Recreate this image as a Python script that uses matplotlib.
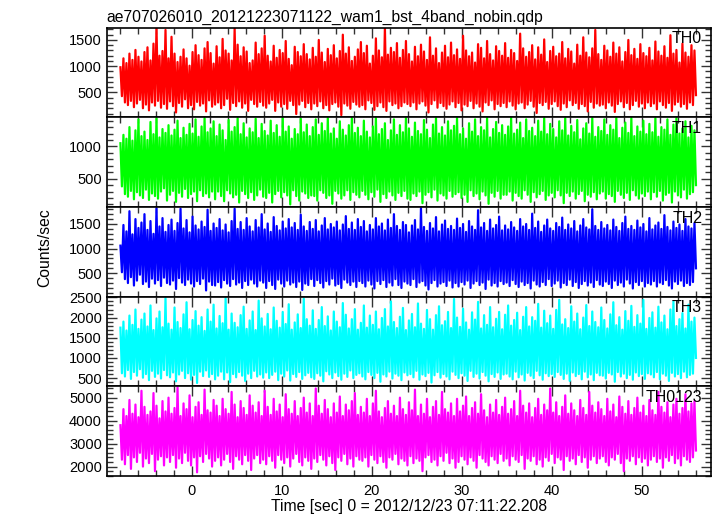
import numpy as np
import matplotlib
matplotlib.use("Agg")
import matplotlib.pyplot as plt
from matplotlib.ticker import MultipleLocator

plt.rcParams['font.family'] = ['Liberation Sans', 'DejaVu Sans']

title = "ae707026010_20121223071122_wam1_bst_4band_nobin.qdp"
bands = ["TH0", "TH1", "TH2", "TH3", "TH0123"]
colors = ["#ff0000", "#00ff00", "#0000ff", "#00ffff", "#ff00ff"]
t_start, t_end = -7.94, 56.0

# successive highs / lows of each light curve across time
th0_hi = [980, 1150, 1060, 1240, 1120, 1310, 1180, 1090, 1270, 1360, 1110, 1430, 1730, 1200, 1290, 1690,
          1150, 1560, 1240, 1080, 1180, 1320, 1150, 1010, 1270, 1400, 1210, 1120, 1340, 1460, 1250, 1050,
          1380, 1170, 1520, 1300, 1240, 1110, 1720, 1410, 1190, 1360, 1280, 1060, 1110, 1450, 1230, 1340,
          1580, 1200, 1090, 1390, 1160, 1310, 1250, 1480, 1140, 1020, 1370, 1270, 1190, 1420, 1230, 1130,
          1350, 1180, 1500, 1260, 1080, 1330, 1210, 1400, 1150, 1290, 1600, 1240, 1360, 1100, 1180, 1320,
          1460, 1250, 1390, 1050, 1200, 1530, 1300, 1170, 1740, 1220, 1350, 1270, 1440, 1160, 1310, 1480,
          1230, 1090, 1370, 1190, 1410, 1280, 1120, 1550, 1200, 1340, 1060, 1260, 1390, 1170, 1450, 1210,
          1320, 1140, 1580, 1300, 1190, 1260, 1070, 1420, 1350, 1150, 1480, 1230, 1110, 1380, 1290, 1200,
          1440, 1160, 1310, 1250, 1100, 1620, 1340, 1180, 1270, 1400, 1130, 1360, 1220, 1510, 1080, 1290,
          1370, 1190, 1240, 1460, 1150, 1330, 1280, 1050, 1410, 1200, 1550, 1260, 1170, 1340, 1690, 1230,
          1120, 1390, 1300, 1180, 1450, 1240, 1360, 1090, 1270, 1500, 1210, 1330, 1140, 1420, 1250, 1190,
          1350, 1110, 1470, 1280, 1200, 1380, 1160, 1590, 1240, 1310, 1070, 1430, 1260, 1180, 1400, 1300]
th0_lo = [430, 310, 260, 340, 220, 290, 360, 200, 270, 160, 310, 250, 340, 210, 280, 190,
          330, 240, 120, 300, 230, 370, 200, 260, 180, 320, 250, 290, 140, 350, 230, 270,
          310, 200, 260, 380, 170, 300, 240, 330, 210, 290, 150, 360, 280, 230, 320, 250,
          210, 290, 360, 150, 310, 230, 280, 190, 340, 260, 90, 270, 340, 220, 300, 180,
          290, 240, 330, 200, 260, 160, 280, 310, 230, 70, 290, 250, 190, 320, 270, 230,
          260, 180, 350, 300, 170, 240, 310, 220, 150, 330, 260, 290, 200, 240, 310, 280,
          240, 310, 180, 290, 330, 250, 120, 280, 350, 210, 300, 240, 190, 270, 330, 220,
          300, 160, 270, 240, 340, 200, 290, 230, 140, 310, 260, 350, 180, 280, 240, 300,
          220, 330, 250, 180, 290, 310, 200, 270, 340, 230, 110, 300, 260, 320, 190, 280,
          330, 240, 170, 290, 220, 350, 260, 300, 190, 280, 240, 140, 320, 210, 290, 250,
          270, 200, 310, 250, 130, 280, 330, 220, 300, 180, 260, 340, 230, 290, 200, 310,
          240, 290, 180, 330, 260, 210, 300, 150, 270, 320, 230, 280, 190, 310, 260, 450]

th1_hi = [1050, 1180, 1120, 1300, 1090, 1250, 1420, 1160, 1230, 1100, 1380, 1190, 1440, 1140, 1270, 1210,
          1330, 1170, 1260, 1400, 1130, 1290, 1180, 1350, 1200, 1420, 1150, 1310, 1440, 1220, 1280, 1390,
          1160, 1340, 1250, 1100, 1410, 1230, 1300, 1440, 1190, 1360, 1140, 1280, 1220, 1430, 1130, 1350,
          1240, 1170, 1400, 1210, 1330, 1150, 1440, 1230, 1310, 1120, 1270, 1190, 1430, 1220, 1340, 1160,
          1300, 1420, 1180, 1360, 1240, 1440, 1200, 1280, 1120, 1390, 1260, 1170, 1330, 1440, 1210, 1290,
          1160, 1400, 1230, 1140, 1310, 1440, 1190, 1270, 1360, 1100, 1250, 1420, 1180, 1330, 1220, 1440,
          1280, 1150, 1370, 1240, 1190, 1410, 1260, 1130, 1340, 1440, 1200, 1300, 1170, 1390, 1250, 1320,
          1440, 1190, 1280, 1120, 1360, 1230, 1420, 1160, 1300, 1250, 1440, 1140, 1270, 1380, 1210, 1330,
          1180, 1310, 1440, 1200, 1260, 1370, 1130, 1420, 1240, 1290, 1160, 1400, 1230, 1440, 1190, 1350,
          1270, 1140, 1390, 1250, 1440, 1170, 1320, 1220, 1410, 1110, 1280, 1360, 1200, 1440, 1150, 1300,
          1240, 1420, 1180, 1330, 1260, 1440, 1130, 1290, 1370, 1210, 1440, 1160, 1310, 1230, 1400, 1190,
          1350, 1220, 1440, 1150, 1300, 1260, 1420, 1180, 1340, 1440, 1200, 1280, 1390, 1140, 1320, 1250]
th1_lo = [380, 260, 220, 310, 180, 290, 240, 200, 330, 170, 270, 230, 190, 300, 350, 160,
          250, 310, 140, 280, 220, 340, 200, 260, 300, 150, 320, 230, 270, 210, 300, 180,
          300, 230, 150, 320, 270, 210, 250, 130, 310, 260, 200, 290, 170, 240, 330, 220,
          200, 280, 130, 260, 310, 210, 290, 240, 100, 320, 230, 160, 300, 270, 200, 240,
          230, 160, 320, 280, 200, 240, 110, 310, 270, 190, 240, 320, 170, 290, 250, 210,
          310, 250, 180, 290, 220, 330, 140, 260, 200, 300, 240, 170, 280, 230, 310, 190,
          170, 270, 230, 300, 120, 250, 290, 210, 330, 160, 270, 240, 190, 310, 220, 260,
          290, 200, 250, 140, 320, 230, 270, 180, 300, 240, 110, 280, 220, 310, 190, 250,
          250, 300, 160, 280, 230, 190, 320, 250, 140, 290, 210, 260, 310, 170, 240, 280,
          210, 320, 240, 120, 280, 230, 300, 190, 260, 310, 150, 250, 220, 290, 180, 270,
          300, 190, 260, 230, 140, 310, 250, 200, 280, 170, 320, 240, 190, 270, 230, 300,
          180, 290, 220, 310, 160, 250, 280, 130, 300, 240, 210, 330, 190, 260, 290, 400]

th2_hi = [1060, 1480, 1350, 1760, 1290, 1600, 1420, 1530, 1700, 1380, 1560, 1300, 1820, 1450, 1620, 1340,
          1480, 1590, 1360, 1520, 1810, 1410, 1580, 1330, 1650, 1470, 1390, 1550, 1440, 1790, 1360, 1510,
          1420, 1600, 1370, 1490, 1330, 1560, 1810, 1400, 1540, 1380, 1620, 1450, 1350, 1580, 1430, 1700,
          1390, 1510, 1340, 1640, 1460, 1370, 1550, 1410, 1600, 1430, 1520, 1380, 1690, 1450, 1360, 1540,
          1400, 1580, 1350, 1470, 1620, 1390, 1500, 1430, 1550, 1370, 1490, 1660, 1400, 1530, 1380, 1600,
          1440, 1560, 1350, 1480, 1390, 1620, 1450, 1510, 1370, 1590, 1420, 1700, 1460, 1380, 1540, 1480,
          1330, 1470, 1580, 1390, 1820, 1440, 1360, 1520, 1410, 1640, 1350, 1490, 1570, 1400, 1460, 1380,
          1610, 1420, 1500, 1340, 1560, 1450, 1380, 1780, 1430, 1520, 1360, 1590, 1410, 1480, 1650, 1370,
          1470, 1390, 1540, 1430, 1360, 1600, 1450, 1500, 1380, 1710, 1420, 1550, 1340, 1470, 1590, 1410,
          1360, 1520, 1440, 1630, 1380, 1490, 1410, 1560, 1350, 1470, 1600, 1430, 1390, 1800, 1460, 1380,
          1540, 1410, 1480, 1370, 1590, 1440, 1360, 1520, 1650, 1400, 1460, 1380, 1570, 1430, 1500, 1350,
          1620, 1390, 1470, 1530, 1400, 1680, 1440, 1370, 1550, 1420, 1490, 1360, 1600, 1450, 1410, 1520]
th2_lo = [520, 380, 300, 420, 250, 350, 470, 280, 330, 220, 390, 290, 360, 240, 410, 300,
          270, 350, 180, 400, 310, 260, 370, 290, 230, 340, 280, 390, 150, 330, 260, 250,
          320, 210, 360, 290, 240, 380, 270, 310, 200, 340, 260, 370, 290, 230, 350, 310,
          200, 340, 260, 180, 370, 290, 230, 350, 270, 310, 220, 330, 160, 290, 260, 380,
          240, 360, 300, 210, 340, 270, 390, 250, 280, 200, 370, 310, 260, 330, 220, 340,
          300, 230, 350, 270, 190, 340, 280, 360, 220, 310, 250, 380, 260, 200, 330, 290,
          260, 380, 220, 310, 340, 250, 170, 300, 360, 230, 290, 320, 240, 350, 210, 300,
          230, 320, 270, 350, 200, 290, 340, 260, 310, 180, 370, 250, 300, 230, 340, 280,
          310, 240, 360, 280, 220, 330, 260, 300, 190, 350, 270, 230, 320, 260, 380, 240,
          290, 350, 210, 300, 260, 370, 240, 320, 200, 280, 340, 250, 310, 220, 360, 270,
          240, 330, 280, 200, 350, 260, 310, 230, 370, 290, 190, 320, 260, 340, 230, 300,
          270, 340, 230, 310, 280, 360, 250, 190, 330, 280, 350, 240, 300, 260, 320, 600]

th3_hi = [1750, 1900, 1680, 2050, 1820, 2200, 1720, 1950, 2100, 1780, 2300, 1690, 1980, 2150, 1760, 2480,
          1850, 1700, 2250, 1890, 1740, 2080, 2380, 1710, 1940, 2160, 1800, 2010, 1670, 2200, 1900, 2320,
          1730, 2040, 1860, 2480, 1700, 2100, 1870, 1760, 2060, 2270, 1720, 1930, 2150, 1690, 2420, 1980,
          1780, 2090, 1710, 2250, 1920, 1750, 2140, 1840, 2330, 1700, 1880, 2080, 1740, 2470, 1960, 1800,
          2180, 1720, 1940, 2260, 1790, 2030, 1680, 2150, 1900, 1760, 2360, 2070, 1730, 1960, 2210, 1700,
          1870, 2300, 1750, 2050, 1820, 2150, 1710, 1990, 2210, 1780, 2400, 1890, 1740, 2020, 2240, 1690,
          1930, 2090, 1760, 2350, 1850, 1720, 2190, 1960, 1700, 2060, 2280, 1810, 1910, 2140, 1740, 2460,
          2000, 1770, 2220, 1880, 1700, 2130, 1950, 2390, 1730, 2060, 1820, 2260, 1760, 1970, 2140, 1710,
          2070, 2300, 1800, 1940, 2120, 1690, 2020, 2260, 1780, 2010, 1920, 2340, 1750, 2170, 1860, 2050,
          1720, 2190, 2440, 1830, 1960, 1740, 2280, 1900, 2100, 1710, 2000, 2310, 1790, 2150, 1890, 1760,
          2250, 1940, 1730, 2080, 2380, 1810, 2010, 1700, 2160, 1920, 2290, 1770, 2060, 1850, 2440, 1720,
          1990, 2130, 1750, 2270, 1880, 2050, 1710, 2200, 2400, 1790, 1960, 2110, 1730, 2320, 1900, 2000]
th3_lo = [620, 540, 700, 480, 650, 560, 720, 510, 600, 450, 680, 530, 610, 490, 700, 570,
          520, 640, 420, 590, 680, 500, 620, 460, 580, 380, 660, 550, 690, 530, 600, 470,
          560, 660, 470, 640, 400, 600, 520, 650, 560, 430, 610, 500, 680, 540, 590, 510,
          640, 500, 580, 660, 450, 610, 540, 690, 440, 600, 530, 650, 480, 570, 630, 520,
          480, 620, 560, 420, 670, 590, 500, 640, 550, 460, 610, 530, 690, 500, 580, 620,
          540, 470, 650, 580, 500, 630, 410, 590, 540, 660, 490, 610, 560, 450, 640, 570,
          600, 520, 680, 460, 590, 550, 630, 390, 570, 650, 510, 600, 540, 470, 660, 580,
          500, 620, 560, 430, 680, 530, 610, 490, 650, 560, 420, 600, 530, 640, 480, 590,
          610, 540, 470, 660, 520, 590, 440, 630, 560, 500, 680, 570, 460, 620, 550, 600,
          530, 650, 580, 480, 610, 430, 640, 550, 600, 470, 660, 520, 590, 450, 630, 570,
          560, 490, 630, 590, 410, 650, 540, 610, 500, 580, 460, 640, 550, 600, 480, 620,
          590, 520, 650, 470, 610, 560, 430, 630, 540, 600, 500, 660, 520, 580, 610, 1000]

th0123_hi = [3800, 4500, 4200, 4900, 4300, 4700, 4150, 5300, 4600, 4250, 4400, 5200, 4650, 4100, 4850, 4400,
             5000, 4300, 4550, 5450, 4200, 4750, 4500, 5100, 4150, 4600, 4800, 4250, 5350, 4450, 4350, 4900,
             4650, 4200, 4950, 4500, 4300, 5250, 4700, 4150, 4850, 4550, 4250, 5100, 4650, 4350, 4800, 4200,
             5300, 4600, 4250, 4950, 4400, 4700, 4150, 5150, 4500, 4300, 4850, 4200, 4550, 5000, 4350, 4750,
             4200, 5400, 4650, 4300, 4900, 4500, 4150, 4750, 4350, 5050, 4200, 4700, 4450, 4850, 5200, 4250,
             4600, 4350, 4950, 4200, 4750, 5300, 4400, 4150, 4550, 4850, 4300, 4650, 4200, 5000, 4500, 4250,
             4800, 4450, 5350, 4200, 4700, 4300, 4950, 4150, 4600, 4850, 4250, 5250, 4500, 4350, 4750, 4200,
             4950, 4400, 4650, 5050, 4200, 4550, 4800, 4300, 5150, 4450, 4150, 4700, 4350, 4900, 4250, 4600,
             5000, 4300, 4500, 4850, 4200, 5300, 4650, 4350, 4750, 4150, 4550, 4950, 4250, 4700, 4450, 5400,
             4350, 4800, 4200, 4600, 5100, 4300, 4750, 4450, 4200, 4900, 4550, 4250, 5250, 4650, 4350, 4800,
             4500, 4200, 4950, 4400, 4700, 4150, 5050, 4600, 4300, 4850, 4250, 4550, 5000, 4350, 4650, 4200,
             4900, 4450, 4250, 5250, 4600, 4350, 4800, 4150, 4700, 4950, 4300, 4550, 5150, 4400, 4750, 4850]
th0123_lo = [2300, 2100, 2500, 1900, 2400, 2200, 2600, 2000, 2350, 2150, 2550, 1800, 2300, 2450, 2050, 2400,
             2200, 2500, 1950, 2350, 2150, 2600, 2250, 2050, 2400, 1750, 2450, 2200, 2550, 2350, 2000, 2250,
             2400, 2050, 2300, 2550, 2200, 1900, 2450, 2300, 2100, 2500, 2250, 1850, 2350, 2500, 2150, 2300,
             2100, 2450, 2250, 1950, 2500, 2300, 2150, 2400, 2000, 2350, 2550, 2200, 2050, 2400, 2250, 1900,
             2350, 2200, 2500, 2300, 2050, 2450, 2150, 1850, 2400, 2250, 2550, 2100, 2350, 2000, 2450, 2300,
             2250, 2400, 2000, 2500, 2300, 2150, 2450, 2200, 1950, 2400, 2300, 2550, 2100, 2350, 2250, 2050,
             2450, 2150, 2350, 2250, 1800, 2400, 2500, 2200, 2300, 2050, 2450, 2250, 2600, 2150, 2350, 1950,
             2200, 2450, 2300, 2100, 2400, 2250, 1950, 2500, 2350, 2200, 2050, 2450, 2300, 2150, 2550, 2250,
             2350, 2050, 2450, 2300, 2200, 2500, 1900, 2350, 2250, 2450, 2100, 2300, 2000, 2400, 2250, 2550,
             2150, 2400, 2300, 1850, 2450, 2250, 2350, 2100, 2500, 2200, 2400, 1950, 2300, 2450, 2150, 2350,
             2450, 2200, 2050, 2400, 2300, 2550, 2150, 1800, 2350, 2250, 2450, 2100, 2400, 2200, 2350, 2050,
             2300, 2450, 2200, 2350, 1950, 2400, 2250, 2500, 2150, 2350, 2050, 2450, 2300, 2200, 2400, 2700]

upper = [th0_hi, th1_hi, th2_hi, th3_hi, th0123_hi]
lower = [th0_lo, th1_lo, th2_lo, th3_lo, th0123_lo]

ylims = [(25, 1730), (60, 1450), (25, 1845), (300, 2520), (1600, 5500)]
ymajor = [500, 500, 500, 500, 1000]
yminor = [100, 100, 100, 100, 200]

fig, axes = plt.subplots(5, 1, figsize=(7.17, 5.16), dpi=100, sharex=True)
fig.subplots_adjust(left=0.149, right=0.992, top=0.946, bottom=0.078, hspace=0)

for i, ax in enumerate(axes):
  # the curve swings high, low, high, low ...
  y = np.column_stack([upper[i], lower[i]]).ravel()
  t = np.linspace(t_start, t_end, len(y))
  ax.plot(t, y, color=colors[i], lw=1.6)
  ax.set_ylim(*ylims[i])
  ax.set_xlim(-9.45, 57.7)
  ax.yaxis.set_major_locator(MultipleLocator(ymajor[i]))
  ax.yaxis.set_minor_locator(MultipleLocator(yminor[i]))
  ax.xaxis.set_major_locator(MultipleLocator(10))
  ax.xaxis.set_minor_locator(MultipleLocator(2))
  ax.tick_params(which='both', direction='in', top=True, right=True, labelsize=10.5,
                 width=1, color='#333333')
  ax.tick_params(which='major', length=7)
  ax.tick_params(which='minor', length=4)
  ax.tick_params(axis='x', pad=6)
  for s in ax.spines.values():
    s.set_linewidth(1.2)
  ax.text(0.985, 0.96, bands[i], transform=ax.transAxes, ha='right', va='top', fontsize=11.5)
  # keep only tick labels inside the panel so joins stay clean
  if i > 0:
    yt = [v for v in ax.get_yticks() if ylims[i][0] <= v <= ylims[i][1]]
    ax.set_yticks(yt)

axes[0].set_title(title, loc='left', fontsize=11.3, pad=4)
axes[-1].set_xlabel("Time [sec] 0 = 2012/12/23 07:11:22.208", fontsize=11.3, labelpad=1)
fig.text(0.063, 0.52, "Counts/sec", rotation=90, ha='center', va='center', fontsize=11.3)

fig.savefig("out.png", dpi=100)
